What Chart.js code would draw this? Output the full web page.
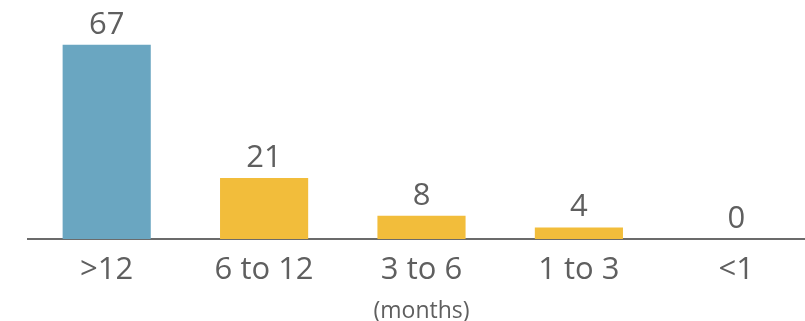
<!DOCTYPE html>
<html>
<head>
<meta charset="utf-8">
<script src="https://cdn.jsdelivr.net/npm/chart.js@4/dist/chart.umd.min.js"></script>
<style>
  html, body { margin: 0; padding: 0; background: #fff; overflow: hidden; }
  #wrap { width: 815px; height: 321px; }
</style>
</head>
<body>
<div id="wrap"><canvas id="ageChart" width="815" height="321"></canvas></div>
<script>
const categories = ['>12', '6 to 12', '3 to 6', '1 to 3', '<1'];
const counts = [67, 21, 8, 4, 0];
const barColors = ['#6aa6c1', '#f2bd3b', '#f2bd3b', '#f2bd3b', '#f2bd3b'];
const unitLabel = '(months)';

const textColor = '#5f5f5f';
const fontFamily = '"Open Sans", "Noto Sans", sans-serif';

// value above each bar
const valueLabels = {
    id: 'valueLabels',
    afterDatasetsDraw(chart) {
        const ctx = chart.ctx;
        const meta = chart.getDatasetMeta(0);
        ctx.save();
        ctx.fillStyle = textColor;
        ctx.font = '31px ' + fontFamily;
        ctx.textAlign = 'center';
        ctx.textBaseline = 'alphabetic';
        meta.data.forEach((bar, i) => {
            ctx.fillText(String(counts[i]), bar.x, bar.y - 11);
        });
        ctx.restore();
    }
};

const ctx = document.getElementById('ageChart').getContext('2d');
const chart = new Chart(ctx, {
    type: 'bar',
    data: {
        labels: categories,
        datasets: [{
            data: counts,
            backgroundColor: barColors,
            borderWidth: 0,
            barPercentage: 0.56,
            categoryPercentage: 1.0
        }]
    },
    options: {
        responsive: false,
        animation: false,
        layout: { padding: { left: 28, top: 7, right: 0, bottom: 0 } },
        plugins: {
            legend: { display: false },
            tooltip: { enabled: false }
        },
        scales: {
            y: {
                display: false,
                min: 0,
                max: 80
            },
            x: {
                grid: { display: false, drawTicks: false },
                border: { display: true, color: '#6b6b6b', width: 2 },
                ticks: {
                    color: textColor,
                    padding: 19,
                    font: { family: fontFamily, size: 31, lineHeight: 0.81 }
                },
                title: {
                    display: true,
                    text: unitLabel,
                    color: textColor,
                    padding: { top: 0, bottom: 0 },
                    font: { family: fontFamily, size: 23, lineHeight: 0.82 }
                }
            }
        }
    },
    plugins: [valueLabels]
});
</script>
</body>
</html>
